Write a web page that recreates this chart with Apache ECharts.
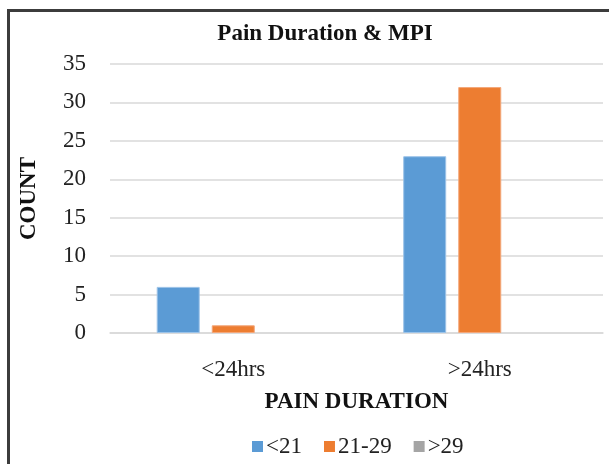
<!DOCTYPE html>
<html>
<head>
<meta charset="utf-8">
<script src="https://cdn.jsdelivr.net/npm/echarts@6/dist/echarts.min.js"></script>
<style>html,body{margin:0;padding:0;background:#fff}#c{width:609px;height:464px}</style>
</head>
<body>
<div id="c"></div>
<script>
const categories = ['<24hrs', '>24hrs'];
const seriesNames = ['<21', '21-29', '>29'];
const valuesLt21 = [6, 23];
const values21to29 = [1, 32];
const valuesGt29 = [0, 0];
const yTicks = [0, 5, 10, 15, 20, 25, 30, 35];

const FONT = '"Liberation Serif", "Times New Roman", serif';
const colors = ['#5B9BD5', '#ED7D31', '#A5A5A5'];
const borders = ['#9cc3e8', '#f3a77a', '#c8c8c8'];
const chart = echarts.init(document.getElementById('c'));
const allValues = [valuesLt21, values21to29, valuesGt29];
chart.setOption({
  animation: false,
  title: {
    text: 'Pain Duration & MPI',
    left: 320, textAlign: 'center', top: 18,
    textStyle: {fontFamily: FONT, fontSize: 23, fontWeight: 'bold', color: '#111'}
  },
  legend: {
    data: seriesNames,
    left: 247, top: 430,
    itemWidth: 11, itemHeight: 11, itemGap: 22,
    icon: 'rect',
    itemStyle: {borderWidth: 0},
    textStyle: {fontFamily: FONT, fontSize: 23, color: '#222', padding: [0,0,0,-2]}
  },
  grid: {left: 110, right: 6, top: 64, bottom: 131, containLabel: false},
  xAxis: {
    type: 'category',
    data: categories,
    name: 'PAIN DURATION',
    nameLocation: 'middle',
    nameGap: 58,
    nameTextStyle: {fontFamily: FONT, fontSize: 23, fontWeight: 'bold', color: '#111'},
    axisLine: {lineStyle: {color: '#d9d9d9', width: 1.5}},
    axisTick: {show: false},
    axisLabel: {fontFamily: FONT, fontSize: 23, color: '#222', margin: 25}
  },
  yAxis: {
    type: 'value',
    min: yTicks[0], max: yTicks[yTicks.length - 1], interval: 5,
    name: 'COUNT',
    nameLocation: 'middle',
    nameGap: 69,
    nameTextStyle: {fontFamily: FONT, fontSize: 23, fontWeight: 'bold', color: '#111'},
    axisLine: {show: false},
    axisTick: {show: false},
    splitLine: {lineStyle: {color: '#d9d9d9', width: 1.5}},
    axisLabel: {fontFamily: FONT, fontSize: 23, color: '#222', margin: 24}
  },
  series: seriesNames.map((n, i) => ({
    name: n,
    type: 'bar',
    data: allValues[i],
    barWidth: 43,
    barGap: '28%',
    itemStyle: {color: colors[i], borderColor: borders[i], borderWidth: i < 2 ? 1 : 0}
  })),
  graphic: [{
    type: 'rect',
    shape: {x: 8.5, y: 10.5, width: 700, height: 600},
    style: {fill: 'none', stroke: '#3c3c3c', lineWidth: 3},
    silent: true
  }]
});
</script>
</body>
</html>
